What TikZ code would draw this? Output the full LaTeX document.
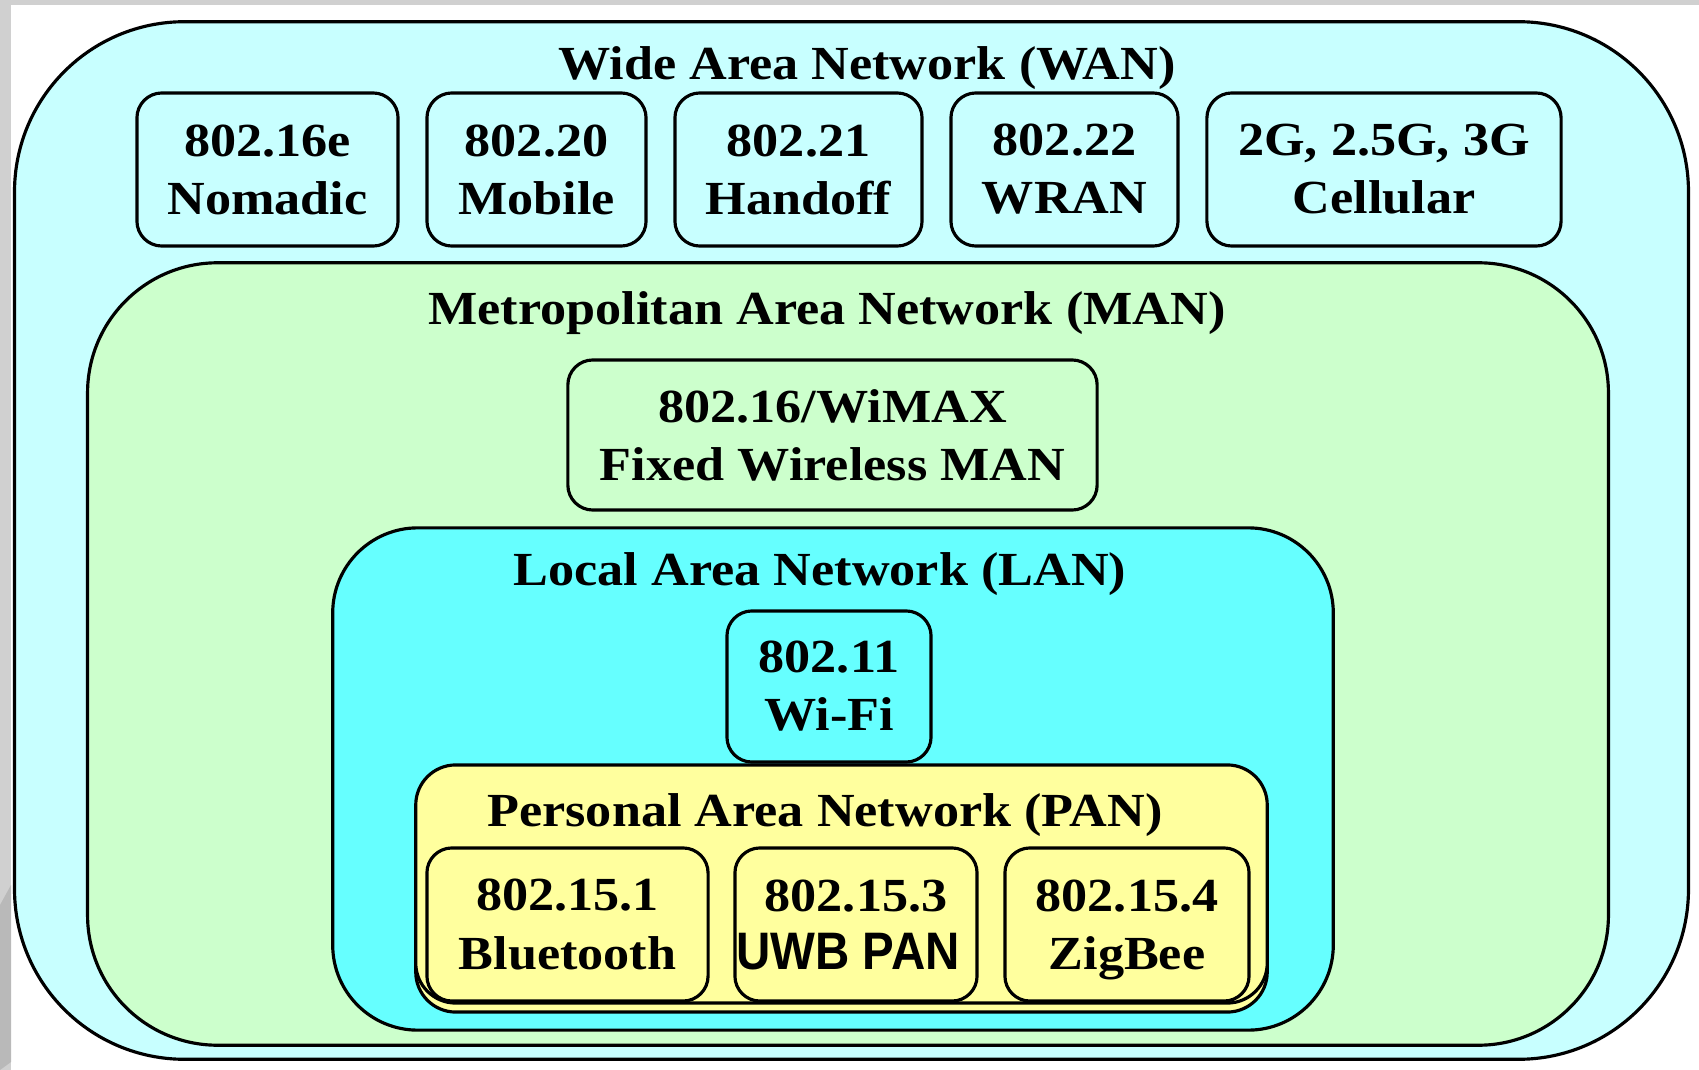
\documentclass[tikz,border=0pt]{standalone}
\usepackage{fontspec}
\setmainfont{Liberation Serif}[FakeStretch=1.1]
\newfontfamily\uwbfont{Liberation Sans}[FakeStretch=0.9]

\definecolor{wanfill}{RGB}{200,255,255}
\definecolor{manfill}{RGB}{204,255,204}
\definecolor{lanfill}{RGB}{102,255,255}
\definecolor{panfill}{RGB}{255,255,158}
\definecolor{framegray}{RGB}{208,208,208}

\begin{document}
\begin{tikzpicture}[
    x=0.01cm, y=-0.01cm,
    area/.style={rectangle, draw=black, line width=0.9pt, inner sep=0},
    wan/.style={area, fill=wanfill, rounded corners=1.7cm},
    man/.style={area, fill=manfill, rounded corners=1.3cm},
    lan/.style={area, fill=lanfill, rounded corners=0.85cm},
    pan/.style={area, fill=panfill, rounded corners=0.4cm},
    title/.style={inner sep=0, font=\fontsize{13.5}{16}\selectfont\bfseries},
    std/.style={area, rounded corners=0.25cm, align=center, minimum height=1.53cm,
      font=\fontsize{13.5}{16.5}\selectfont\bfseries}
  ]
  \useasboundingbox (0,0) rectangle (1699,1070);
  % grey frame of the screenshot
  \fill[framegray] (0,0) rectangle (1699,5);
  \fill[framegray] (0,0) rectangle (11,1070);
  \fill[gray!55] (0,905) -- (11,885) -- (11,1062) -- (0,1070) -- cycle;

  % wide area
  \node[wan, minimum width=16.73cm, minimum height=10.37cm] (wan) at (851.5,540.5) {};
  \node[title] (wantitle) at (867,68) {Wide Area Network (WAN)};
  \node[std, fill=wanfill, minimum width=2.61cm] (nomadic) at (267.5,169.5) {802.16e\\Nomadic};
  \node[std, fill=wanfill, minimum width=2.19cm] (mobile) at (536.5,169.5) {802.20\\Mobile};
  \node[std, fill=wanfill, minimum width=2.47cm] (handoff) at (798.5,169.5) {802.21\\Handoff};
  \node[std, fill=wanfill, minimum width=2.27cm] (wran) at (1064.5,169.5) {802.22\\WRAN};
  \node[std, fill=wanfill, minimum width=3.54cm] (cellular) at (1384,169.5) {2G, 2.5G, 3G\\Cellular};

  % metropolitan area
  \node[man, minimum width=15.2cm, minimum height=7.82cm] (man) at (848,654) {};
  \node[title] (mantitle) at (827,313) {Metropolitan Area Network (MAN)};
  \node[std, fill=manfill, minimum width=5.29cm, minimum height=1.5cm] (wimax) at (832.5,435)
    {802.16/WiMAX\\Fixed Wireless MAN};

  % local area
  \node[lan, minimum width=10cm, minimum height=5.02cm] (lan) at (833,779) {};
  \node[title] (lantitle) at (820,574) {Local Area Network (LAN)};
  \node[std, fill=lanfill, minimum width=2.04cm, minimum height=1.51cm] (wifi) at (829,686.5)
    {802.11\\Wi-Fi};

  % personal area
  \node[pan, minimum width=8.51cm, minimum height=2.38cm] (panback) at (841.5,893) {};
  \node[pan, minimum width=8.51cm, minimum height=2.38cm] (pan) at (841.5,884) {};
  \node[title] (pantitle) at (825,815) {Personal Area Network (PAN)};
  \node[std, fill=panfill, minimum width=2.81cm] (bluetooth) at (567.5,924.5) {802.15.1\\Bluetooth};
  \node[std, fill=panfill, minimum width=2.42cm] (uwb) at (856,924.5)
    {802.15.3\\{\uwbfont\fontsize{15}{16.5}\selectfont UWB PAN}\hspace*{0.16cm}};
  \node[std, fill=panfill, minimum width=2.44cm] (zigbee) at (1127,924.5) {802.15.4\\Zi\smash{g}Bee};
\end{tikzpicture}
\end{document}
